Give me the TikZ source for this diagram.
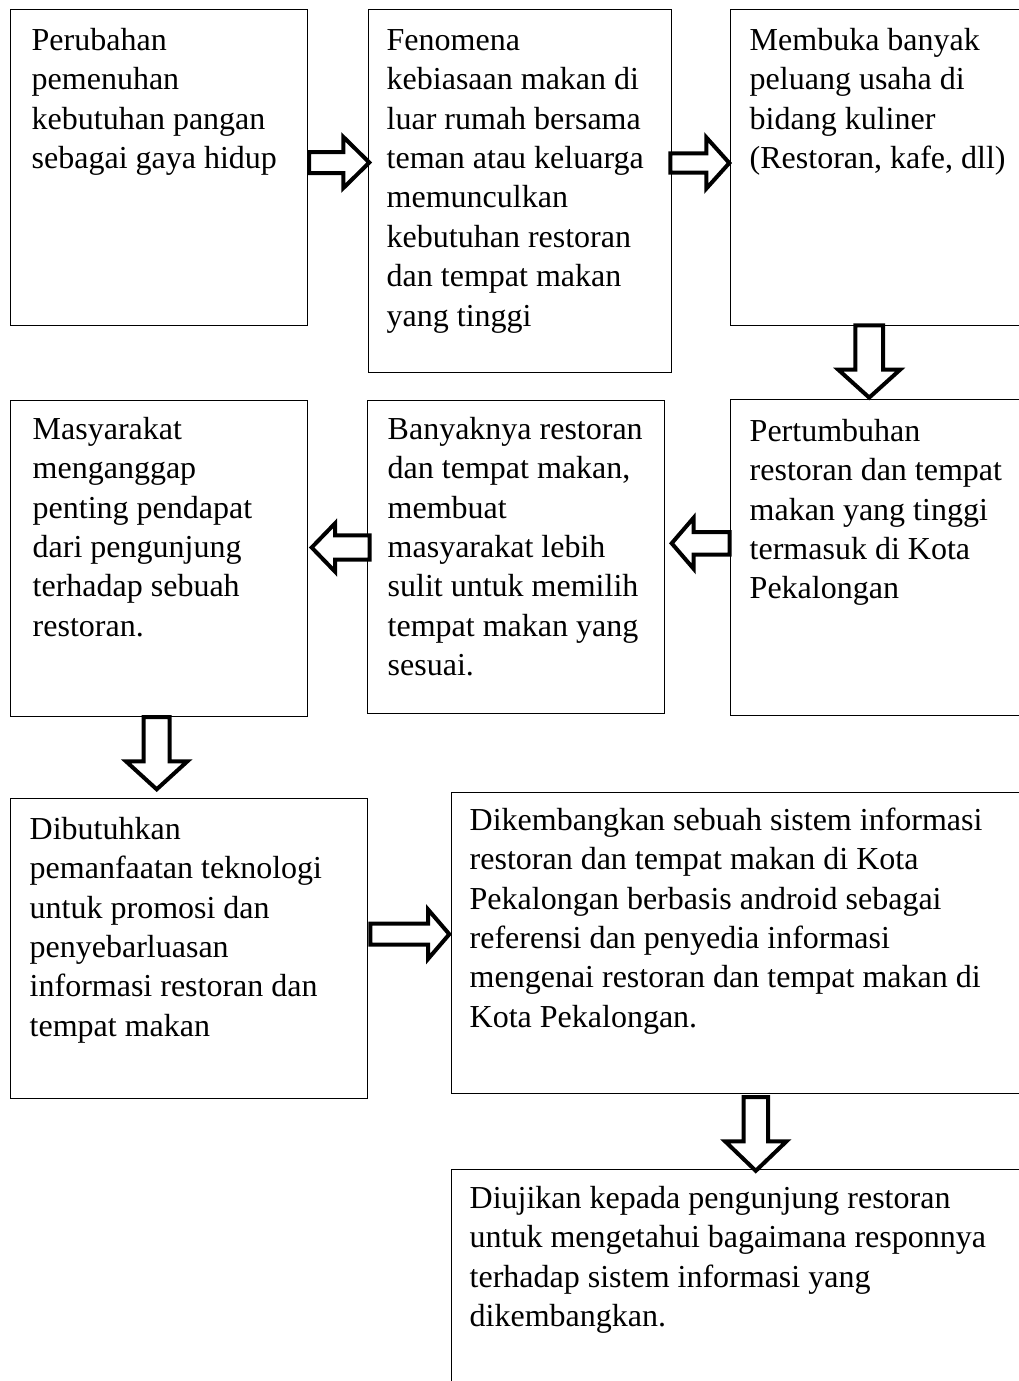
\documentclass[tikz,border=0pt]{standalone}
\usepackage{fontspec}
\setmainfont{Liberation Serif}
\tikzset{
  box/.style={draw=black, line width=1.1pt, rectangle, anchor=north west, inner sep=0pt},
  txt/.style={anchor=north west, inner sep=0pt, align=left, font=\fontsize{32}{39.45}\selectfont},
  barrow/.style={draw=black, line width=4pt, fill=white, line join=miter}
}
\newcommand{\fs}{\strut}
% #1 name, #2 tail coordinate, #3 direction angle, #4 length, #5 shaft half width, #6 head half width, #7 head length
\newcommand{\blockarrow}[7]{%
  \coordinate (#1) at #2;
  \draw[barrow, shift={(#1)}, rotate=#3] (0,-#5) -- ({#4-#7},-#5) -- ({#4-#7},-#6) -- (#4,0)
    -- ({#4-#7},#6) -- ({#4-#7},#5) -- (0,#5) -- cycle;}
\begin{document}
\begin{tikzpicture}[x=1pt,y=1pt]
\useasboundingbox (0,0) rectangle (1019,-1381);
\clip (0,0) rectangle (1019,-1381);
\fill[white] (0,0) rectangle (1019,-1381);
% boxes
\node[box, minimum width=297, minimum height=316] (A) at (10,-9) {};
\node[box, minimum width=303, minimum height=363] (B) at (368,-9) {};
\node[box, minimum width=320, minimum height=316] (C) at (730,-9) {};
\node[box, minimum width=320, minimum height=316] (D) at (730,-399) {};
\node[box, minimum width=297, minimum height=313] (E) at (367,-400) {};
\node[box, minimum width=297, minimum height=316] (F) at (10,-400) {};
\node[box, minimum width=357, minimum height=300] (G) at (10,-798) {};
\node[box, minimum width=600, minimum height=301] (H) at (451,-792) {};
\node[box, minimum width=600, minimum height=300] (I) at (451,-1169) {};
% texts
\node[txt] (tA) at (31.5,-22.3) {\fs Perubahan\\pemenuhan\\kebutuhan pangan\\sebagai gaya hidup};
\node[txt] (tB) at (386.5,-22.3) {\fs Fenomena\\kebiasaan makan di\\luar rumah bersama\\teman atau keluarga\\memunculkan\\kebutuhan restoran\\dan tempat makan\\yang tinggi};
\node[txt] (tC) at (749.5,-22.3) {\fs Membuka banyak\\peluang usaha di\\bidang kuliner\\(Restoran, kafe, dll)};
\node[txt] (tD) at (749.5,-413.3) {\fs Pertumbuhan\\restoran dan tempat\\makan yang tinggi\\termasuk di Kota\\Pekalongan};
\node[txt] (tE) at (387.5,-411.3) {\fs Banyaknya restoran\\dan tempat makan,\\membuat\\masyarakat lebih\\sulit untuk memilih\\tempat makan yang\\sesuai.};
\node[txt] (tF) at (32.5,-411.3) {\fs Masyarakat\\menganggap\\penting pendapat\\dari pengunjung\\terhadap sebuah\\restoran.};
\node[txt] (tG) at (29.5,-811.3) {\fs Dibutuhkan\\pemanfaatan teknologi\\untuk promosi dan\\penyebarluasan\\informasi restoran dan\\tempat makan};
\node[txt] (tH) at (469.5,-802.3) {\fs Dikembangkan sebuah sistem informasi\\restoran dan tempat makan di Kota\\Pekalongan berbasis android sebagai\\referensi dan penyedia informasi\\mengenai restoran dan tempat makan di\\Kota Pekalongan.};
\node[txt] (tI) at (469.5,-1180.3) {\fs Diujikan kepada pengunjung restoran\\untuk mengetahui bagaimana responnya\\terhadap sistem informasi yang\\dikembangkan.};
% block arrows
\blockarrow{aAB}{(309,-162.5)}{0}{60.3}{10.5}{25.6}{26}
\blockarrow{aBC}{(670.3,-163)}{0}{59}{9.7}{25.6}{23}
\blockarrow{aCD}{(869.2,-325.3)}{-90}{72.3}{13.8}{31}{28}
\blockarrow{aDE}{(729.7,-543.3)}{180}{58}{11.3}{25.6}{22}
\blockarrow{aEF}{(369.7,-547.5)}{180}{58}{12.2}{24.3}{23.5}
\blockarrow{aFG}{(156.7,-717)}{-90}{72.3}{13}{30.7}{28}
\blockarrow{aGH}{(370.3,-934.2)}{0}{79}{10.5}{24.8}{21.3}
\blockarrow{aHI}{(755.8,-1097)}{-90}{73.8}{12.2}{30.7}{29.5}
\end{tikzpicture}
\end{document}
